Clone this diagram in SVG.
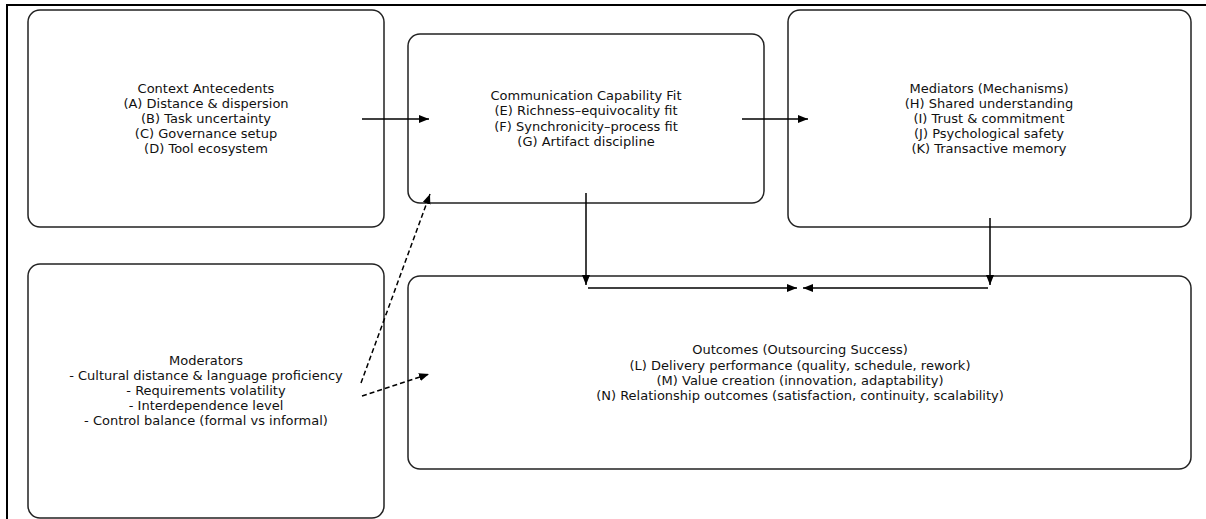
<svg xmlns="http://www.w3.org/2000/svg" width="1206" height="519" viewBox="0 0 1206 519">
<style>
.box{fill:#fff;stroke:#222;stroke-width:1.5}
.t{font-family:"DejaVu Sans",sans-serif;font-size:13px;fill:#111;text-anchor:middle;dominant-baseline:central}
.c{stroke:#000;stroke-width:1.5;fill:none}
.d{stroke-dasharray:5,3}
.frame{stroke:#000;stroke-width:2;fill:none}
</style>
<defs>
<marker id="ah" markerUnits="userSpaceOnUse" markerWidth="11" markerHeight="9" refX="10" refY="4" orient="auto">
<path d="M0,0 L10,4 L0,8 z" fill="#000"/>
</marker>
</defs>
<rect width="1206" height="519" fill="#fff"/>
<path class="frame" d="M7,519 L7,5 L1206,5"/>
<g id="context">
<rect class="box" x="28" y="10" width="356" height="217" rx="12"/>
<text class="t" x="206" y="88">Context Antecedents</text>
<text class="t" x="206" y="103">(A) Distance &amp; dispersion</text>
<text class="t" x="206" y="118">(B) Task uncertainty</text>
<text class="t" x="206" y="133">(C) Governance setup</text>
<text class="t" x="206" y="148">(D) Tool ecosystem</text>
</g>
<g id="comm">
<rect class="box" x="408" y="34" width="356" height="169" rx="12"/>
<text class="t" x="586" y="95">Communication Capability Fit</text>
<text class="t" x="586" y="110">(E) Richness–equivocality fit</text>
<text class="t" x="586" y="126">(F) Synchronicity–process fit</text>
<text class="t" x="586" y="141">(G) Artifact discipline</text>
</g>
<g id="mediators">
<rect class="box" x="788" y="10" width="403" height="217" rx="12"/>
<text class="t" x="989" y="88">Mediators (Mechanisms)</text>
<text class="t" x="989" y="103">(H) Shared understanding</text>
<text class="t" x="989" y="118">(I) Trust &amp; commitment</text>
<text class="t" x="989" y="133">(J) Psychological safety</text>
<text class="t" x="989" y="148">(K) Transactive memory</text>
</g>
<g id="moderators">
<rect class="box" x="28" y="264" width="356" height="254" rx="12"/>
<text class="t" x="206" y="360">Moderators</text>
<text class="t" x="206" y="375">- Cultural distance &amp; language proficiency</text>
<text class="t" x="206" y="390">- Requirements volatility</text>
<text class="t" x="206" y="405">- Interdependence level</text>
<text class="t" x="206" y="420">- Control balance (formal vs informal)</text>
</g>
<g id="outcomes">
<rect class="box" x="408" y="276" width="783" height="193" rx="12"/>
<text class="t" x="800" y="349">Outcomes (Outsourcing Success)</text>
<text class="t" x="800" y="365">(L) Delivery performance (quality, schedule, rework)</text>
<text class="t" x="800" y="380">(M) Value creation (innovation, adaptability)</text>
<text class="t" x="800" y="395">(N) Relationship outcomes (satisfaction, continuity, scalability)</text>
</g>
<g id="connectors">
<line class="c" x1="362" y1="119" x2="429" y2="119" marker-end="url(#ah)"/>
<line class="c" x1="742" y1="119" x2="808" y2="119" marker-end="url(#ah)"/>
<line class="c" x1="586" y1="193" x2="586" y2="285" marker-end="url(#ah)"/>
<line class="c" x1="990" y1="218" x2="990" y2="285" marker-end="url(#ah)"/>
<line class="c" x1="588" y1="288" x2="797" y2="288" marker-end="url(#ah)"/>
<line class="c" x1="988" y1="288" x2="803" y2="288" marker-end="url(#ah)"/>
<line class="c d" x1="361" y1="383" x2="430" y2="194" marker-end="url(#ah)"/>
<line class="c d" x1="362" y1="396" x2="429" y2="374" marker-end="url(#ah)"/>
</g>
</svg>
